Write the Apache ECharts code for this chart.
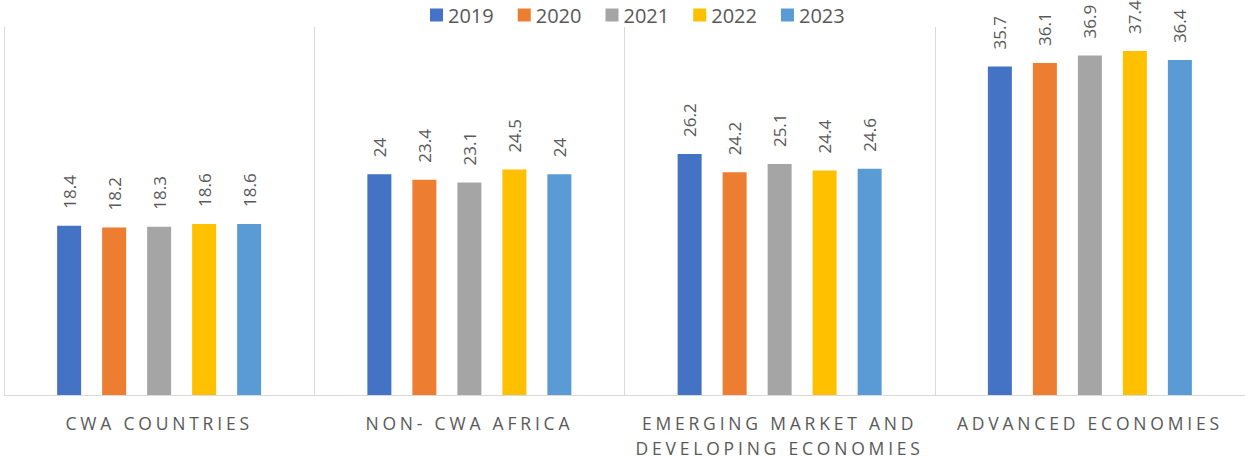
<!DOCTYPE html>
<html>
<head>
    <meta charset="UTF-8">
    <title>Bar chart</title>
    <script type="text/javascript" src="https://cdn.jsdelivr.net/npm/echarts@6/dist/echarts.min.js"></script>
    <style>
        html, body { margin: 0; padding: 0; background: #fff; }
        #main { width: 1245px; height: 459px; }
        /* category labels are spaced out like the original */
        #main text[style*="17.5px"] { letter-spacing: 3.8px; }
    </style>
</head>
<body>
<div id="main"></div>
<script type="text/javascript">
    var categories = ['CWA COUNTRIES', 'NON- CWA AFRICA', 'EMERGING MARKET AND\nDEVELOPING ECONOMIES', 'ADVANCED ECONOMIES'];
    var years = ['2019', '2020', '2021', '2022', '2023'];
    var v2019 = [18.4, 24, 26.2, 35.7];
    var v2020 = [18.2, 23.4, 24.2, 36.1];
    var v2021 = [18.3, 23.1, 25.1, 36.9];
    var v2022 = [18.6, 24.5, 24.4, 37.4];
    var v2023 = [18.6, 24, 24.6, 36.4];
    var colors = ['#4472C4', '#ED7D31', '#A5A5A5', '#FFC000', '#5B9BD5'];

    var values = [v2019, v2020, v2021, v2022, v2023];
    var series = [];
    for (var i = 0; i < years.length; i++) {
        series.push({
            name: years[i],
            type: 'bar',
            data: values[i],
            barWidth: 24,
            barGap: '87.5%',
            itemStyle: {color: colors[i]},
            label: {
                show: true,
                position: 'top',
                rotate: 90,
                align: 'left',
                verticalAlign: 'middle',
                distance: 17,
                color: '#595959',
                fontFamily: 'Open Sans',
                fontSize: 17
            }
        });
    }

    var myChart = echarts.init(document.getElementById('main'), null, {renderer: 'svg'});
    myChart.setOption({
        animation: false,
        color: colors,
        legend: {
            data: years,
            left: 425,
            top: 0,
            itemWidth: 13,
            itemHeight: 13,
            itemGap: 24,
            icon: 'rect',
            textStyle: {color: '#595959', fontFamily: 'Open Sans', fontSize: 20}
        },
        grid: {left: 4, right: 0, top: 27, bottom: 64, outerBoundsMode: 'none'},
        xAxis: {
            type: 'category',
            data: categories,
            axisLine: {lineStyle: {color: '#D9D9D9', width: 1}},
            axisTick: {show: false},
            splitLine: {show: true, lineStyle: {color: '#D9D9D9', width: 1}},
            axisLabel: {
                color: '#595959',
                fontFamily: 'Open Sans',
                fontSize: 17.5,
                lineHeight: 25,
                margin: 15,
                interval: 0
            }
        },
        yAxis: {
            type: 'value',
            min: 0,
            max: 40,
            show: false,
            splitLine: {show: false}
        },
        series: series
    });
</script>
</body>
</html>
